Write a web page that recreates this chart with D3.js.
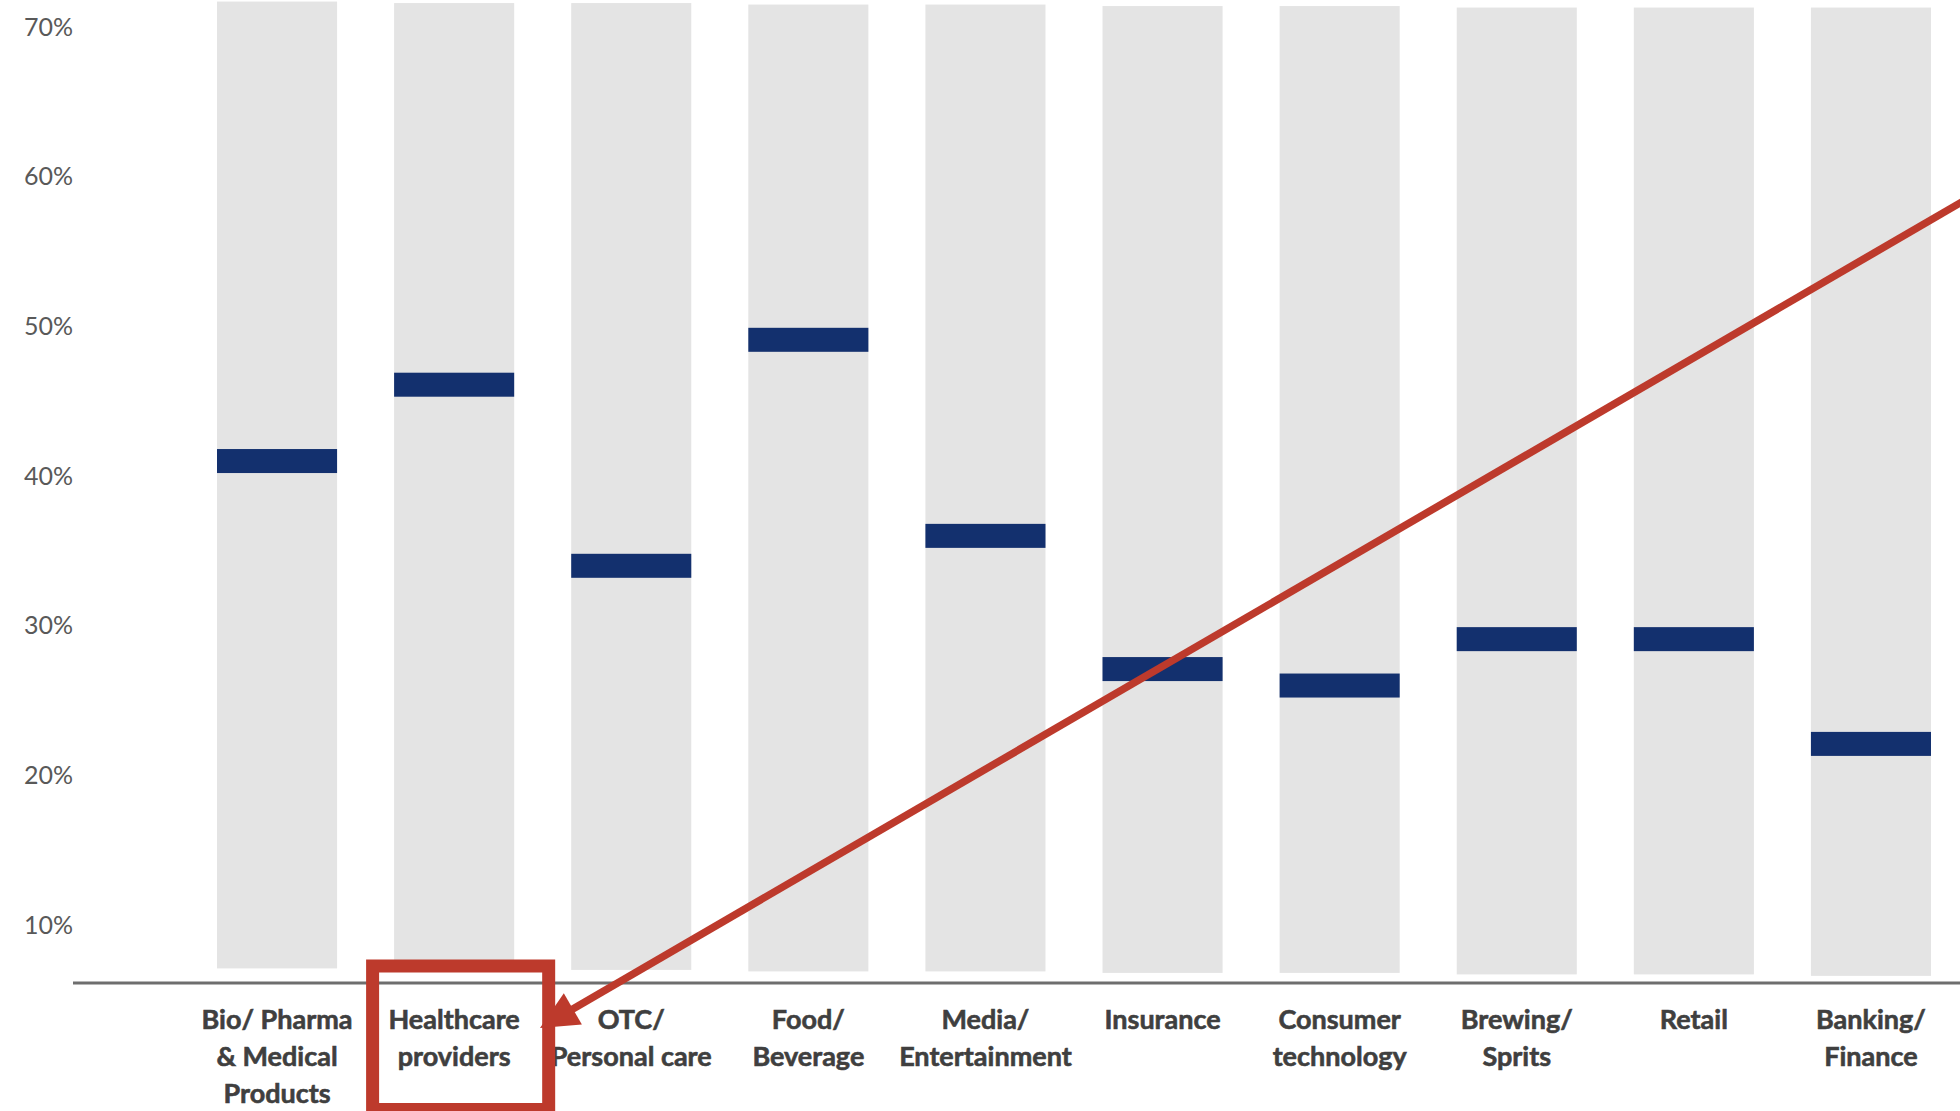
<!DOCTYPE html>
<html>
<head>
<meta charset="utf-8">
<script src="https://cdn.jsdelivr.net/npm/d3@7"></script>
<style>
  html, body { margin: 0; padding: 0; background: #ffffff; }
  svg { display: block; }
</style>
</head>
<body>
<svg id="chart" width="1960" height="1111"></svg>
<script>
// ---- data ----
const categories = [
  "Bio/ Pharma|& Medical|Products",
  "Healthcare|providers",
  "OTC/|Personal care",
  "Food/|Beverage",
  "Media/|Entertainment",
  "Insurance",
  "Consumer|technology",
  "Brewing/|Sprits",
  "Retail",
  "Banking/|Finance"
];
const medianValues = [0.410, 0.461, 0.340, 0.491, 0.360, 0.271, 0.260, 0.291, 0.291, 0.221];
const rangeHigh = [0.717, 0.716, 0.716, 0.715, 0.715, 0.714, 0.714, 0.713, 0.713, 0.713];
const rangeLow  = [0.071, 0.070, 0.070, 0.069, 0.069, 0.068, 0.068, 0.067, 0.067, 0.066];
const yTicks = [0.1, 0.2, 0.3, 0.4, 0.5, 0.6, 0.7];
const yTickLabels = ["10%", "20%", "30%", "40%", "50%", "60%", "70%"];
const highlightCategory = "Healthcare|providers";

// ---- layout ----
const svg = d3.select("#chart");
const W = 1960, H = 1111;
const plotLeft = 217, plotRight = 1931, plotTop = 27, plotBottom = 925;
const axisY = 983;

const x = d3.scaleBand().domain(categories).range([plotLeft, plotRight]).paddingInner(0.322).paddingOuter(0);
const y = d3.scaleLinear().domain([0.1, 0.7]).range([plotBottom, plotTop]);

const rows = categories.map((c, i) => ({ c, v: medianValues[i], hi: rangeHigh[i], lo: rangeLow[i] }));

// grey range bars
svg.append("g").selectAll("rect").data(rows).join("rect")
  .attr("x", d => x(d.c))
  .attr("width", x.bandwidth())
  .attr("y", d => y(d.hi))
  .attr("height", d => y(d.lo) - y(d.hi))
  .attr("fill", "#e4e4e4");

// median markers
const markerH = 24;
svg.append("g").selectAll("rect").data(rows).join("rect")
  .attr("x", d => x(d.c))
  .attr("width", x.bandwidth())
  .attr("y", d => y(d.v) - markerH / 2)
  .attr("height", markerH)
  .attr("fill", "#13306e");

// y axis labels
const yAxis = d3.axisLeft(y).tickValues(yTicks).tickFormat((d, i) => yTickLabels[i]).tickSize(0).tickPadding(9);
const yg = svg.append("g").attr("transform", "translate(82,0)").call(yAxis);
yg.select(".domain").remove();
yg.selectAll("text")
  .attr("font-family", "Lato, 'Open Sans', sans-serif")
  .attr("font-size", 25)
  .attr("fill", "#595959");

// x axis
const xAxis = d3.axisBottom(x).tickSize(0).tickFormat("");
const xg = svg.append("g").attr("transform", `translate(0,${axisY})`).call(xAxis);
xg.select(".domain").remove();
svg.append("line")
  .attr("x1", 73).attr("x2", W)
  .attr("y1", axisY).attr("y2", axisY)
  .attr("stroke", "#6e6e6e").attr("stroke-width", 3);

xg.selectAll(".tick").each(function(d) {
  const t = d3.select(this).append("text")
    .attr("text-anchor", "middle")
    .attr("font-family", "Lato, 'Open Sans', sans-serif")
    .attr("font-weight", "bold")
    .attr("font-size", 27)
    .attr("fill", "#3f3f3f")
    .attr("stroke", "#3f3f3f")
    .attr("stroke-width", 0.6);
  d.split("|").forEach((line, i) => {
    t.append("tspan").attr("x", 0).attr("y", 46 + i * 37).text(line);
  });
});

// ---- annotation ----
const red = "#bd3a2c";
const bx = x(highlightCategory);
svg.append("rect")
  .attr("x", bx - 21.5).attr("y", 966)
  .attr("width", x.bandwidth() + 56).attr("height", 143.5)
  .attr("fill", "none").attr("stroke", red).attr("stroke-width", 13);

const start = [1975, 194.3], tip = [540, 1028];
const dx = start[0] - tip[0], dy = start[1] - tip[1];
const len = Math.hypot(dx, dy);
const ux = dx / len, uy = dy / len;
const headL = 38, headW = 18;
const base = [tip[0] + ux * headL, tip[1] + uy * headL];
svg.append("line")
  .attr("x1", start[0]).attr("y1", start[1])
  .attr("x2", base[0] + ux * -4).attr("y2", base[1] + uy * -4)
  .attr("stroke", red).attr("stroke-width", 7.5);
svg.append("path")
  .attr("d", d3.line()([
    tip,
    [base[0] - uy * headW, base[1] + ux * headW],
    [base[0] + uy * headW, base[1] - ux * headW]
  ]) + "Z")
  .attr("fill", red);
</script>
</body>
</html>
